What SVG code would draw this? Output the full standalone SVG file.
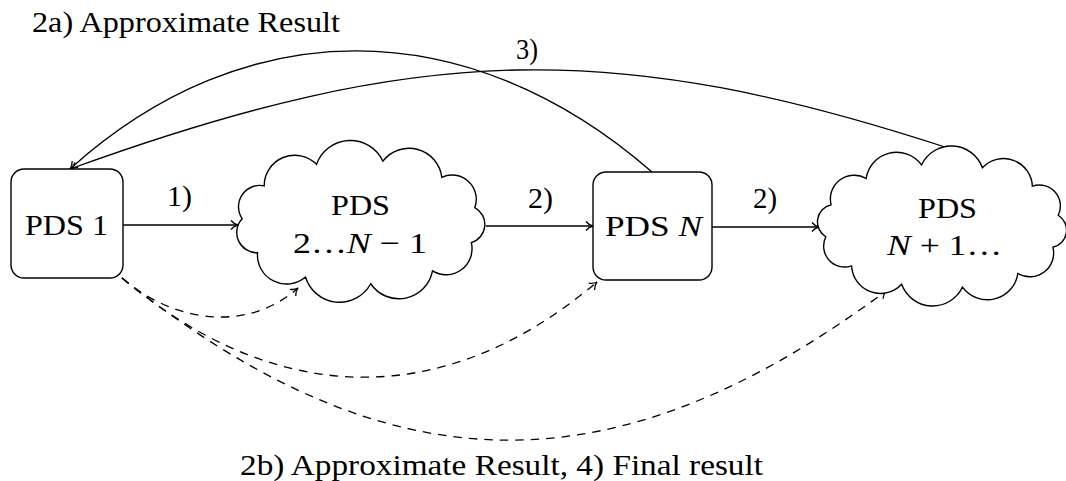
<svg xmlns="http://www.w3.org/2000/svg" width="1066" height="481" viewBox="0 0 1066 481">
  <style>
    .txt { font-family: "Liberation Serif", "Times New Roman", serif; font-size: 29.5px; fill: #000; }
    .mid { text-anchor: middle; }
    .it { font-style: italic; }
    .shape { fill: #fff; stroke: #000; stroke-width: 1.4; }
    .edge { fill: none; stroke: #000; stroke-width: 1.3; marker-end: url(#tip); }
    .dash { stroke-dasharray: 8.5 7; }
  </style>
  <defs>
    <marker id="tip" markerUnits="userSpaceOnUse" markerWidth="14" markerHeight="14" viewBox="-10 -7 14 14" refX="0" refY="0" orient="auto">
      <path d="M-7,-4.5 C-5,-2 -2,-0.5 0,0 C-2,0.5 -5,2 -7,4.5" fill="none" stroke="#000" stroke-width="1.3" stroke-dasharray="none"/>
    </marker>
  </defs>
  <rect width="1066" height="481" fill="#fff"/>

  <!-- connectors -->
  <g id="connectors">
    <!-- 1) and 2) forward steps -->
    <path class="edge" d="M123,225 L238,225"/>
    <path class="edge" d="M486,226 L593,226"/>
    <path class="edge" d="M712,227 L819,227"/>
    <!-- feedback arcs back to PDS 1 -->
    <path class="edge" d="M652,172 C466,10 244,12 70,169"/>
    <path class="edge" d="M948,148 C617,40 423,41 70,169"/>
    <!-- dashed result arcs from PDS 1 -->
    <path class="edge dash" d="M122,278 C170,320 245,335 298,288"/>
    <path class="edge dash" d="M122,278 C272,404 440,415 597,282"/>
    <path class="edge dash" d="M122,278 C391,492 615,492 886,291"/>
  </g>

  <!-- nodes -->
  <g id="node-pds1">
    <rect class="shape" x="11" y="169" width="112" height="109" rx="13"/>
    <text class="txt mid" x="66.5" y="235" textLength="83" lengthAdjust="spacingAndGlyphs">PDS 1</text>
  </g>

  <g id="node-cloud1">
    <path class="shape" d="M370.69,283.75 A35.5,35.5 0 0 1 305.52,276.99 A29.1,29.1 0 0 1 257.51,252.72 A20.2,20.2 0 0 1 242.17,218.76 A21.4,21.4 0 0 1 264.17,185.82 A30.6,30.6 0 0 1 316.56,164.35 A35.9,35.9 0 0 1 382.92,161.18 A33,33 0 0 1 441.82,177.32 A24.2,24.2 0 0 1 474.79,207.63 A19,19 0 0 1 471.30,242.60 A26,26 0 0 1 432.49,270.92 A34.1,34.1 0 0 1 370.69,283.75 Z"/>
    <text class="txt mid" x="360.5" y="215" textLength="59" lengthAdjust="spacingAndGlyphs">PDS</text>
    <text class="txt mid" x="360" y="253" textLength="134" lengthAdjust="spacingAndGlyphs">2…<tspan class="it">N</tspan> − 1</text>
  </g>

  <g id="node-pdsN">
    <rect class="shape" x="593" y="172" width="119" height="108" rx="13"/>
    <text class="txt mid" x="653.5" y="236" textLength="97" lengthAdjust="spacingAndGlyphs">PDS <tspan class="it">N</tspan></text>
  </g>

  <g id="node-cloud2">
    <path class="shape" d="M1052.88,247.20 A23.7,23.7 0 0 1 1017.85,273.49 A30.8,30.8 0 0 1 962.49,287.06 A33,33 0 0 1 901.64,284.26 A28.9,28.9 0 0 1 851.61,265.85 A21,21 0 0 1 825.79,236.76 A17.5,17.5 0 0 1 831.12,204.80 A23.7,23.7 0 0 1 866.15,178.51 A30.8,30.8 0 0 1 921.51,164.94 A33,33 0 0 1 982.36,167.74 A28.9,28.9 0 0 1 1032.39,186.15 A21,21 0 0 1 1058.21,215.24 A17.5,17.5 0 0 1 1052.88,247.20 Z"/>
    <text class="txt mid" x="947.5" y="218" textLength="59" lengthAdjust="spacingAndGlyphs">PDS</text>
    <text class="txt mid" x="944.5" y="255" textLength="115" lengthAdjust="spacingAndGlyphs"><tspan class="it">N</tspan> + 1…</text>
  </g>

  <!-- step labels -->
  <g id="labels">
    <text class="txt" x="167" y="206" textLength="25" lengthAdjust="spacingAndGlyphs">1)</text>
    <text class="txt" x="528" y="208" textLength="25" lengthAdjust="spacingAndGlyphs">2)</text>
    <text class="txt" x="753" y="208" textLength="24" lengthAdjust="spacingAndGlyphs">2)</text>
    <text class="txt" x="516" y="59" textLength="22" lengthAdjust="spacingAndGlyphs">3)</text>
    <text class="txt" x="32" y="32" textLength="308" lengthAdjust="spacingAndGlyphs">2a) Approximate Result</text>
    <text class="txt" x="240" y="475" textLength="523" lengthAdjust="spacingAndGlyphs">2b) Approximate Result, 4) Final result</text>
  </g>
</svg>
